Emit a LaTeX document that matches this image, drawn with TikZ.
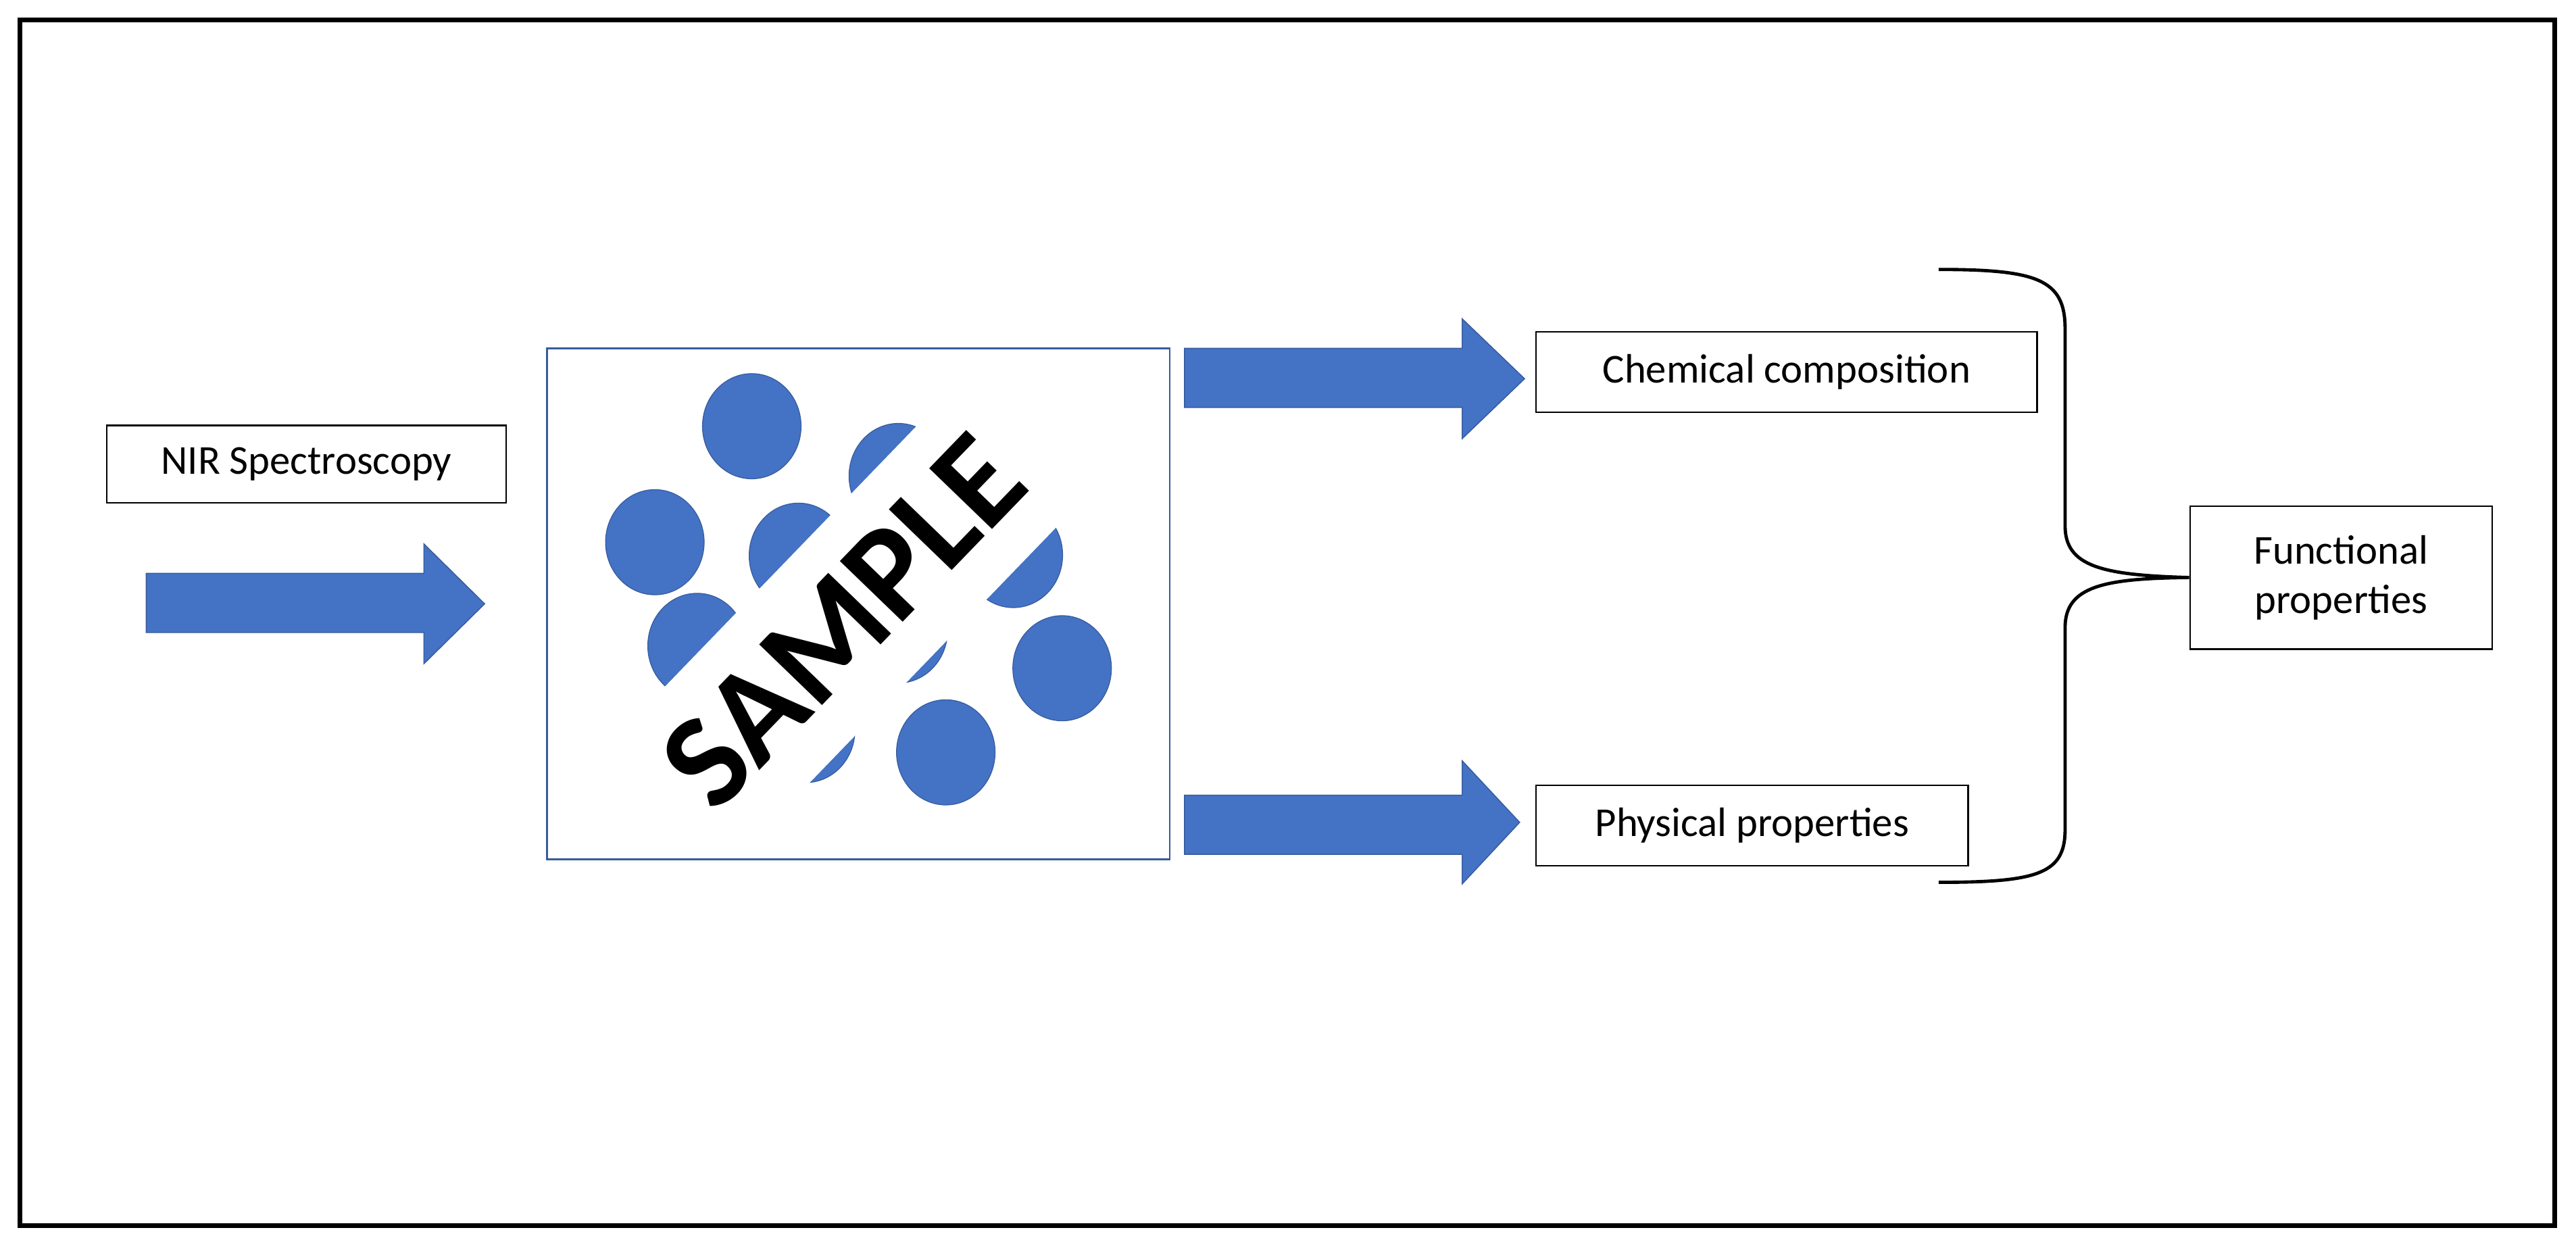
\documentclass[tikz,border=0pt]{standalone}
\usepackage{fontspec}
\setmainfont{Carlito}
\begin{document}
\begin{tikzpicture}[x=1pt,y=-1pt,
  lbl/.style={draw=black,line width=1pt,fill=white,font=\fontsize{25}{30}\selectfont,inner sep=0pt},
  blk/.style={fill=arrblue,draw=arrblue!80!black,line width=0.6pt},
  dot/.style={fill=arrblue,draw=arrblue!80!black,line width=0.5pt}]
\definecolor{arrblue}{HTML}{4472C4}
\useasboundingbox (0,0) rectangle (1568,762.6);
\draw[line width=3pt] (12,12) rectangle (1555,746);
% sample circles
\foreach \cx/\cy in {457.6/259.4,639.9/267.8,398.6/330,546.8/289.7,486/338.2,616.8/337.8,646.5/406.7,424.3/393.1,575.7/457.9,546.8/383.7,432.2/453.7,490.4/444.3}
  \fill[dot] (\cx,\cy) ellipse [x radius=30pt,y radius=32pt];
\begin{scope}
\clip (334,213) rectangle (711,522);
\fill[white,rotate around={46:(559,333)}] (300,333-52) rectangle (820,333+52);
\end{scope}
\node[draw=arrblue!80!black,line width=1pt,minimum width=379pt,minimum height=311pt,inner sep=0pt] (sample) at (522.5,367.5) {};
\node[rotate=46,font=\fontsize{82}{88}\selectfont\bfseries,inner sep=0pt] (txt) at (513,378) {SAMPLE};
% labels
\node[lbl,minimum width=243pt,minimum height=47pt] (nir) at (186.5,282.5) {NIR Spectroscopy};
\node[lbl,minimum width=305pt,minimum height=49pt] (chem) at (1087.5,226.5) {Chemical composition};
\node[lbl,minimum width=263pt,minimum height=49pt] (phys) at (1066.5,502.5) {Physical properties};
\node[lbl,minimum width=184pt,minimum height=87pt,align=center] (func) at (1425,351.5) {Functional\\properties};
% arrows
\fill[blk] (89,349) -- (258,349) -- (258,331) -- (295,367.5) -- (258,404) -- (258,385) -- (89,385) -- cycle;
\fill[blk] (721,212) -- (890,212) -- (890,194) -- (928,230.5) -- (890,267) -- (890,248) -- (721,248) -- cycle;
\fill[blk] (721,484) -- (890,484) -- (890,463) -- (925,500.5) -- (890,538) -- (890,520) -- (721,520) -- cycle;
% brace
\draw[line width=2pt] (1180,164) .. controls (1240,164) and (1257,170) .. (1257,200) -- (1257,320) .. controls (1257,345) and (1280,350) .. (func.west)
  .. controls (1280,352) and (1257,357) .. (1257,382) -- (1257,505) .. controls (1257,532) and (1240,537) .. (1180,537);
\end{tikzpicture}
\end{document}
